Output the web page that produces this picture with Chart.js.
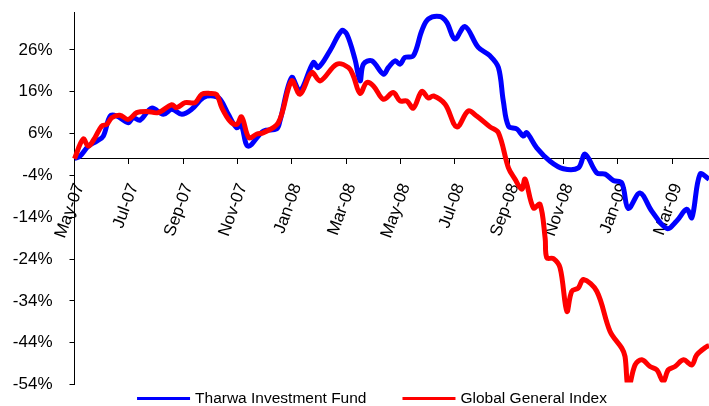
<!DOCTYPE html>
<html>
<head>
<meta charset="utf-8">
<script src="https://cdn.jsdelivr.net/npm/chart.js@4.4.1/dist/chart.umd.min.js"></script>
<style>
  html, body { margin: 0; padding: 0; background: #fff; }
</style>
</head>
<body>
<canvas id="chart" width="709" height="406"></canvas>
<script>
// months since May-07
const tharwaMonths = [0, 0.2, 0.51, 0.82, 1.06, 1.31, 1.55, 1.98, 2.16, 2.41, 2.84, 3.27, 3.58, 3.95, 4.31, 4.74, 5.11, 5.36, 5.66, 5.97,
  6.13, 6.39, 6.95, 7.44, 7.56, 7.99, 8.30, 8.79, 8.97, 9.40, 9.83, 10.02, 10.32, 10.51, 10.63, 10.94, 11.37, 11.55, 11.80, 11.98,
  12.16, 12.47, 12.78, 13.02, 13.45, 13.70, 14.00, 14.37, 14.86, 15.29, 15.60, 15.78, 15.97, 16.28, 16.52, 16.64, 17.01, 17.50, 17.99, 18.54,
  18.79, 19.22, 19.53, 19.83, 20.14, 20.38, 20.81, 21.24, 21.80, 22.16, 22.53, 22.72, 23.02, 23.35];
const tharwaValues = [0, 0.6, 3.0, 4.2, 5.4, 10.2, 10.2, 8.6, 9.8, 9.2, 12.1, 10.6, 11.8, 10.6, 11.8, 14.6, 15.0, 14.2, 10.6, 7.4,
  8.1, 3.0, 6.6, 7.1, 9.0, 19.4, 16.2, 23.0, 21.8, 25.8, 30.6, 29.8, 23.8, 18.6, 22.6, 23.4, 20.2, 21.8, 23.4, 22.6,
  24.2, 24.6, 30.6, 33.4, 34.0, 32.6, 28.6, 31.6, 26.6, 24.6, 21.8, 13.8, 7.8, 7.1, 5.4, 6.2, 2.6, -0.6, -2.4, -2.2,
  1.1, -3.4, -3.7, -5.2, -5.8, -11.9, -8.2, -12.5, -16.7, -14.9, -12.1, -14.1, -3.7, -4.9];

const globalMonths = [0, 0.32, 0.51, 0.75, 1.00, 1.19, 1.37, 1.67, 1.98, 2.29, 2.66, 3.08, 3.58, 3.76, 4.07, 4.44, 4.68, 4.99, 5.23, 5.42,
  5.72, 5.97, 6.15, 6.42, 6.71, 6.95, 7.50, 7.99, 8.30, 8.73, 9.04, 9.65, 10.08, 10.26, 10.51, 10.75, 11.00, 11.37, 11.73, 11.98,
  12.23, 12.47, 12.78, 13.02, 13.21, 13.64, 14.07, 14.49, 14.80, 15.29, 15.60, 15.97, 16.21, 16.46, 16.58, 16.89, 17.13, 17.32, 17.38, 17.62,
  17.87, 18.12, 18.30, 18.54, 18.73, 19.22, 19.71, 20.14, 20.26, 20.38, 20.63, 20.88, 21.18, 21.43, 21.67, 21.85, 22.10, 22.41, 22.72, 22.90,
  23.27, 23.35];
const globalValues = [0, 4.7, 3.0, 5.0, 7.8, 8.2, 9.8, 10.4, 9.4, 11.0, 11.3, 11.0, 12.9, 12.2, 13.4, 13.4, 15.4, 15.6, 15.3, 12.2,
  9.0, 8.2, 10.0, 5.0, 5.9, 6.2, 8.6, 18.6, 15.4, 20.6, 18.6, 22.6, 21.8, 19.8, 15.6, 18.2, 17.4, 14.2, 15.8, 13.8,
  13.8, 12.1, 16.1, 14.5, 15.0, 13.0, 7.6, 11.4, 10.2, 7.6, 6.2, -2.2, -4.9, -7.3, -4.9, -11.8, -10.9, -19.0, -23.7, -23.9,
  -26.1, -36.5, -31.7, -30.9, -28.9, -31.7, -41.3, -45.3, -47.3, -55.0, -49.3, -48.1, -49.7, -50.5, -53.3, -50.5, -49.7, -48.1, -49.3, -46.9,
  -44.9, -44.8];

const xTickMonths = [0, 2, 4, 6, 8, 10, 12, 14, 16, 18, 20, 22];
const xTickLabels = ['May-07', 'Jul-07', 'Sep-07', 'Nov-07', 'Jan-08', 'Mar-08', 'May-08', 'Jul-08', 'Sep-08', 'Nov-08', 'Jan-09', 'Mar-09'];
const yTicks = [-54, -44, -34, -24, -14, -4, 6, 16, 26];

const seriesNames = ['Tharwa Investment Fund', 'Global General Index'];
const seriesColors = ['#0000ff', '#ff0000'];

const FONT = '"Liberation Sans", Arial, sans-serif';

function points(xs, ys) {
  return xs.map(function (x, i) { return { x: x, y: ys[i] }; });
}

// legend drawn by hand so the spacing can match
const legendPlugin = {
  id: 'bottomLegend',
  afterDraw(chart) {
    const ctx = chart.ctx;
    ctx.save();
    ctx.font = '15.5px ' + FONT;
    ctx.textBaseline = 'middle';
    const lineW = 53, gapText = 5, gapItem = 36, y = 398.5;
    let total = 0;
    seriesNames.forEach(function (n, i) {
      total += lineW + gapText + ctx.measureText(n).width + (i ? 0 : gapItem);
    });
    let x = 372 - total / 2;
    seriesNames.forEach(function (n, i) {
      ctx.fillStyle = seriesColors[i];
      ctx.fillRect(x, y - 1.5, lineW, 3);
      x += lineW + gapText;
      ctx.fillStyle = '#000';
      ctx.fillText(n, x, y);
      x += ctx.measureText(n).width + gapItem;
    });
    ctx.restore();
  }
};

new Chart(document.getElementById('chart').getContext('2d'), {
  type: 'line',
  data: {
    datasets: [
      {
        label: seriesNames[0],
        data: points(tharwaMonths, tharwaValues),
        borderColor: seriesColors[0],
        backgroundColor: seriesColors[0],
        borderWidth: 5,
        pointRadius: 0,
        tension: 0.35,
        order: 1,
        clip: { left: 5, top: 5, right: 5, bottom: -2 }
      },
      {
        label: seriesNames[1],
        data: points(globalMonths, globalValues),
        borderColor: seriesColors[1],
        backgroundColor: seriesColors[1],
        borderWidth: 5,
        pointRadius: 0,
        tension: 0.35,
        order: 0,
        clip: { left: 5, top: 5, right: 5, bottom: -2 }
      }
    ]
  },
  options: {
    responsive: false,
    animation: false,
    devicePixelRatio: 1,
    layout: { padding: { left: 0, top: 12.3, right: 0, bottom: 21.5 } },
    plugins: {
      legend: { display: false },
      tooltip: { enabled: false }
    },
    scales: {
      x: {
        type: 'linear',
        position: { y: 0 },
        min: 0,
        max: 23.35,
        afterBuildTicks: function (scale) {
          scale.ticks = xTickMonths.map(function (v) { return { value: v }; });
        },
        grid: { drawOnChartArea: false, drawTicks: true, tickLength: 5, color: '#000' },
        border: { color: '#000', width: 1 },
        ticks: {
          autoSkip: false,
          minRotation: 70,
          maxRotation: 70,
          padding: 17,
          labelOffset: 5,
          color: '#000',
          font: { family: FONT, size: 17 },
          callback: function (v, i) { return xTickLabels[i]; }
        }
      },
      y: {
        type: 'linear',
        min: -54,
        max: 35,
        afterBuildTicks: function (scale) {
          scale.ticks = yTicks.map(function (v) { return { value: v }; });
        },
        afterFit: function (scale) {
          scale.width = 74.5;
          scale.paddingTop = 0;
          scale.paddingBottom = 0;
        },
        grid: { drawOnChartArea: false, drawTicks: true, tickLength: 5, color: '#000' },
        border: { color: '#000', width: 1 },
        ticks: {
          padding: 17,
          color: '#000',
          font: { family: FONT, size: 17 },
          callback: function (v) { return v + '%'; }
        }
      }
    }
  },
  plugins: [legendPlugin]
});
</script>
</body>
</html>
